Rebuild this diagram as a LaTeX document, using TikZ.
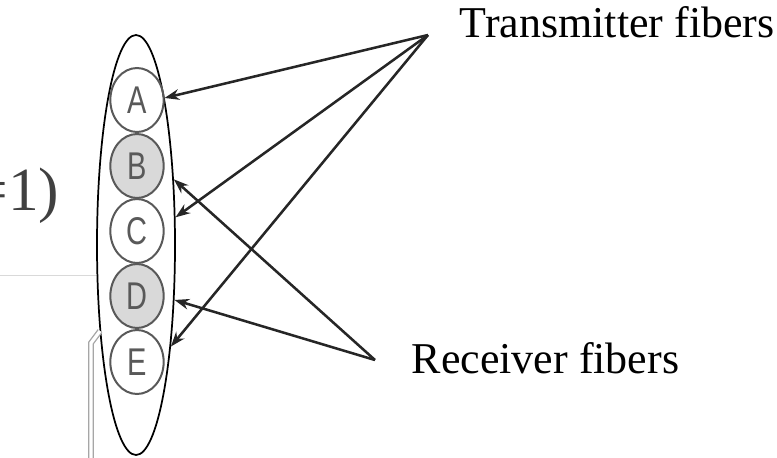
\documentclass[tikz,border=0pt]{standalone}
\usepackage{fontspec}
\setmainfont{Liberation Serif}
\newfontfamily\fiberfont[FakeStretch=0.75]{Liberation Sans}
\usetikzlibrary{arrows.meta, positioning, shapes.geometric}

\begin{document}
\begin{tikzpicture}[x=0.75pt, y=-0.75pt,
    fiber/.style={ellipse, draw=black!65, line width=1.5pt, inner sep=0pt,
        minimum width=40pt, minimum height=48pt,
        font=\fiberfont\fontsize{29}{29}\selectfont, text=black!65},
    rxfiber/.style={fiber, fill=black!15},
    fibertext/.style={font=\fontsize{33}{36}\selectfont},
    ray/.style={line width=1.9pt, black!85, -{Stealth[length=11pt, width=8pt]}}]
    \useasboundingbox (0,0) rectangle (777,457);

    % leftover of the equation on the left
    \node[anchor=base east, font=\fontsize{46}{48}\selectfont, text=black!75] (eqtail) at (64,210) {=1)};
    \draw[black!15, line width=0.6pt] (0,275) -- (97,275);

    % probe bundle
    \node[ellipse, draw, line width=1.3pt, inner sep=0pt,
          minimum width=58.5pt, minimum height=315pt] (bundle) at (136,245) {};

    % fibers
    \node[fiber]   (A) at (137,100) {A};
    \node[rxfiber] (B) at (137,166) {B};
    \node[fiber]   (C) at (137,231) {C};
    \node[rxfiber] (D) at (137,296) {D};
    \node[fiber]   (E) at (137,362) {E};

    % cable
    \draw[black!35, line width=1pt, double=white, double distance=2.4pt]
        (100,331) -- (91,343) -- (91,462);

    % labels
    \node[fibertext, anchor=base west] (txlabel) at (455,37) {Transmitter fibers};
    \node[fibertext, anchor=base west] (rxlabel) at (407,373) {Receiver fibers};
    \coordinate (tx) at (428,35);
    \coordinate (rx) at (375,360);

    % transmitter rays
    \draw[ray] (tx) -- (bundle.79);
    \draw[ray] (tx) -- (bundle.35);
    \draw[ray] (tx) -- (bundle.-71);

    % receiver rays
    \draw[ray] (rx) -- (bundle.60);
    \draw[ray] (rx) -- (bundle.-55);
\end{tikzpicture}
\end{document}
